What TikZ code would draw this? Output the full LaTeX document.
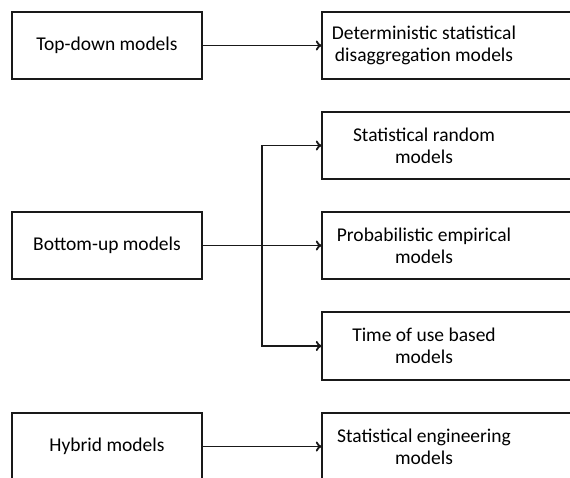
\documentclass[tikz,border=0pt]{standalone}
\usepackage{fontspec}
\setmainfont{Carlito}
\usepackage{tikz}
\usetikzlibrary{arrows.meta}

\begin{document}
\begin{tikzpicture}[x=1pt,y=-1pt]
  \tikzset{LeftBoxStyle/.style = {
    shape         = rectangle,
    draw          = black!90,
    fill          = white,
    line width    = 2pt,
    text          = black,
    align         = center,
    inner sep     = 0pt,
    minimum width = 190pt,
    minimum height= 67pt,
    font          = \fontsize{19.5}{22}\selectfont
    }
  }
  \tikzset{RightBoxStyle/.style = {
    shape         = rectangle,
    text          = black,
    align         = center,
    inner sep     = 0pt,
    minimum width = 204pt,
    minimum height= 67pt,
    font          = \fontsize{19.5}{22}\selectfont
    }
  }
  \tikzset{BoxLineStyle/.style = {
    draw          = black!90,
    line width    = 2pt
    }
  }
  \tikzset{EdgeStyle/.style = {
    draw          = black!90,
    line width    = 1.8pt,
    -{To[length=6pt,width=10pt]}
    }
  }

  \clip (0,0) rectangle (570,477);
  \useasboundingbox (0,0) rectangle (570,477);

	\node[LeftBoxStyle](TD) at (107, 45.5) {Top-down models};
	\node[LeftBoxStyle](BU) at (107, 245.5) {Bottom-up models};
	\node[LeftBoxStyle](HY) at (107, 446.5) {Hybrid models};
	\node[RightBoxStyle](DSD) at (424, 45.5) {Deterministic statistical\\disaggregation models};
	\node[RightBoxStyle](SRM) at (424, 145.5) {Statistical random\\models};
	\node[RightBoxStyle](PEM) at (424, 245.5) {Probabilistic empirical\\models};
	\node[RightBoxStyle](TUM) at (424, 346) {Time of use based\\models};
	\node[RightBoxStyle](SEM) at (424, 446.5) {Statistical engineering\\models};
	\foreach \n in {DSD,SRM,PEM,TUM,SEM}
	  \draw[BoxLineStyle] ([xshift=120pt]\n.north east) -- (\n.north west)
	    -- (\n.south west) -- ([xshift=120pt]\n.south east);

	\coordinate (F1) at (262, 245.5);
	\draw[EdgeStyle](TD) to (DSD);
	\draw[EdgeStyle](BU) to (PEM);
	\draw[EdgeStyle](F1) |- (SRM);
	\draw[EdgeStyle](F1) |- (TUM);
	\draw[EdgeStyle](HY) to (SEM);

\end{tikzpicture}
\end{document}
